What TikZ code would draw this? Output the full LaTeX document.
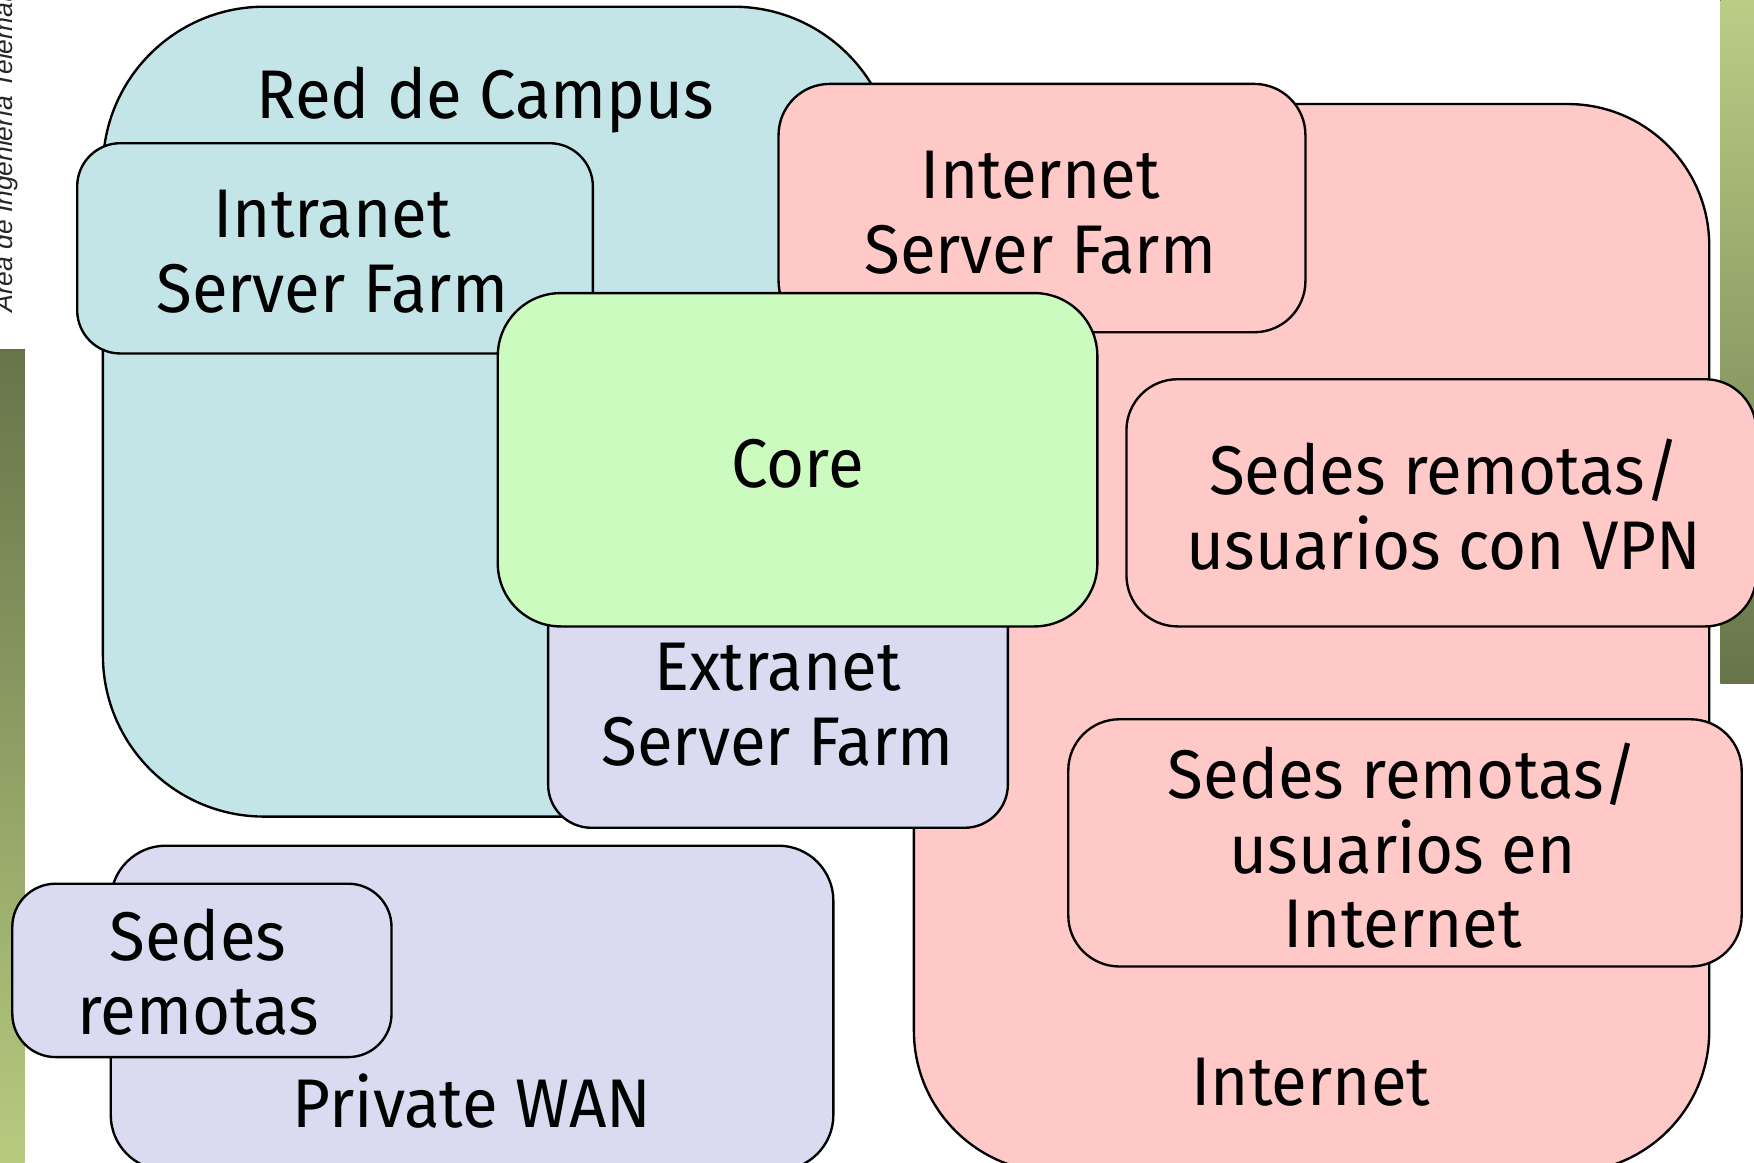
\documentclass[tikz,border=0pt]{standalone}
\usepackage{fontspec}
\setmainfont[FakeStretch=0.95]{Fira Sans}
\newfontfamily\sidefont{Liberation Sans}
\definecolor{campusc}{HTML}{C4E5E8}
\definecolor{pinkc}{HTML}{FFC9C7}
\definecolor{corec}{HTML}{CCFBC0}
\definecolor{lavc}{HTML}{DADAF0}
\definecolor{bardark}{HTML}{67744A}
\definecolor{barlight}{HTML}{B7CB7F}
\tikzset{
  region/.style={draw=black, line width=0.6pt},
  lbl/.style={font=\fontsize{17.5}{19}\selectfont, align=center, inner sep=0pt, text=black},
  sidelbl/.style={font=\sidefont\itshape\fontsize{6.7}{8}\selectfont, rotate=90, anchor=base west, inner sep=0pt, text=black!85}
}
\begin{document}
\begin{tikzpicture}[x=0.01cm, y=-0.01cm]
\useasboundingbox (0,0) rectangle (1568,1039);
% side bars
\fill[top color=bardark, bottom color=barlight] (0,312) rectangle (22,1039);
\fill[top color=barlight!95!white, bottom color=bardark] (1538,0) rectangle (1568,611);
\node[sidelbl] (side) at (11,280) {Área de Ingeniería Telemática};
% regions
\path[region, fill=campusc, rounded corners=41pt] (92,6) rectangle (800,730);
\path[region, fill=pinkc, rounded corners=36pt] (817,93) rectangle (1528,1048);
\path[region, fill=pinkc, rounded corners=13pt] (696,75) rectangle (1167,297);
\path[region, fill=campusc, rounded corners=11pt] (69,128) rectangle (530,316);
\node[lbl] (campus) at (434,106) [anchor=base] {Red de Campus};
\node[lbl] (isf) at (930,190) {Internet\\Server Farm};
\node[lbl] (intra) at (297,225) {Intranet\\Server Farm};
\path[region, fill=lavc, rounded corners=11pt] (490,500) rectangle (901,740);
\node[lbl] (extra) at (695,630) {Extranet\\Server Farm};
\path[region, fill=corec, rounded corners=16pt] (445,262) rectangle (981,560);
\node[lbl, anchor=base] (core) at (713,436) {Core};
\path[region, fill=pinkc, rounded corners=13pt] (1007,339) rectangle (1570,560);
\node[lbl] (vpn) at (1291,451) {Sedes remotas/\\usuarios con VPN};
\path[region, fill=pinkc, rounded corners=13pt] (955,643) rectangle (1557,864);
\node[lbl] (sri) at (1254,756) {Sedes remotas/\\usuarios en\\Internet};
\node[lbl, anchor=base] (inet) at (1172,988) {Internet};
\path[region, fill=lavc, rounded corners=14pt] (99,756) rectangle (745,1046);
\path[region, fill=lavc, rounded corners=11pt] (11,790) rectangle (350,945);
\node[lbl] (sedes) at (177,869) {Sedes\\remotas};
\node[lbl, anchor=base] (wan) at (422,1008) {Private WAN};
\end{tikzpicture}
\end{document}
